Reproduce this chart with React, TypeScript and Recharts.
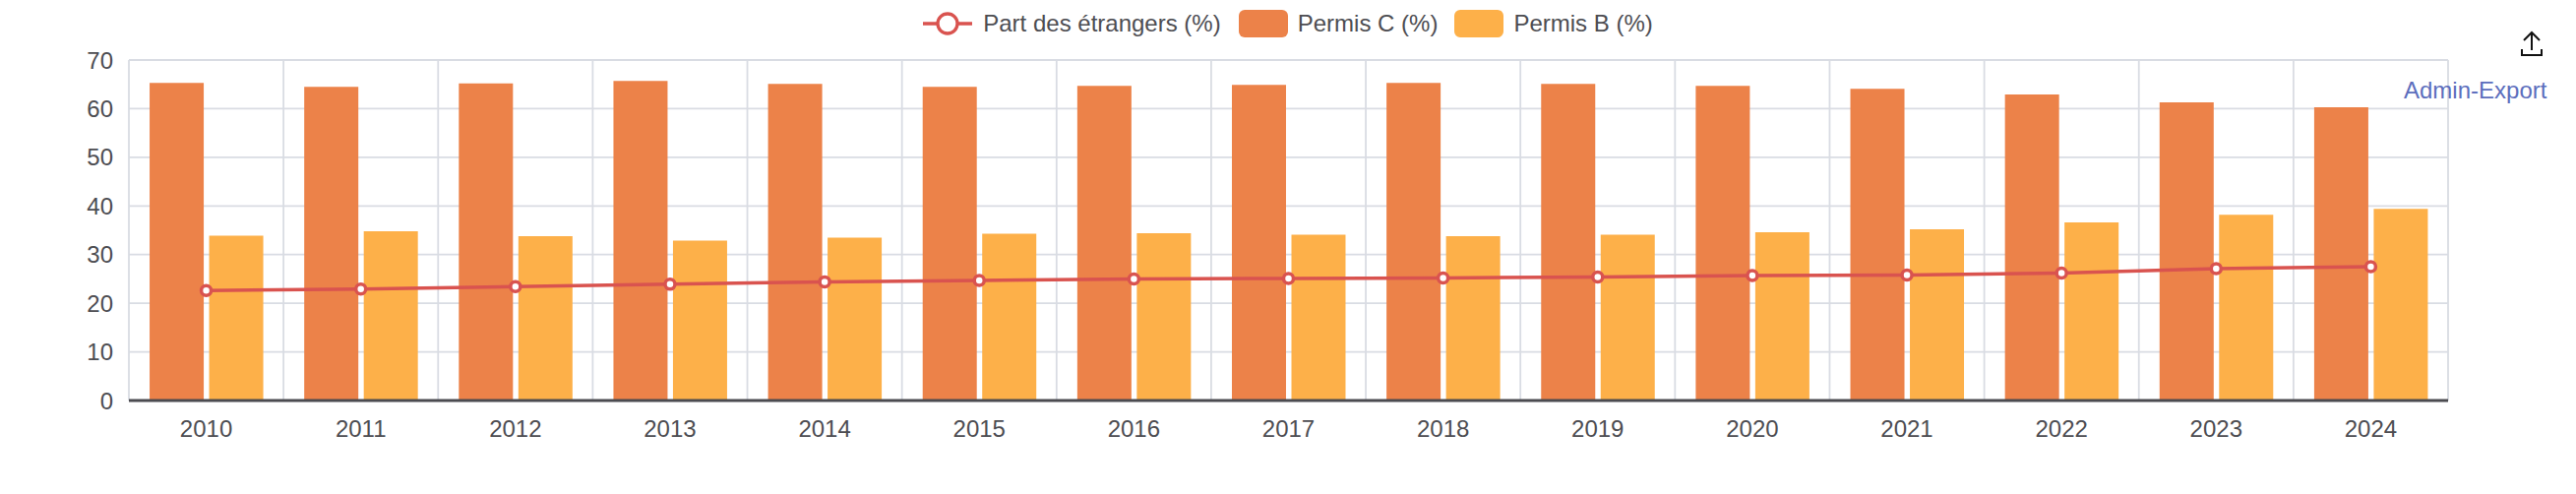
import React from 'react';
import { ComposedChart, Bar, Line, XAxis, YAxis, CartesianGrid, Legend } from 'recharts';

const years = ['2010', '2011', '2012', '2013', '2014', '2015', '2016', '2017', '2018', '2019', '2020', '2021', '2022', '2023', '2024'];
const partEtrangers = [22.6, 22.9, 23.4, 23.9, 24.4, 24.7, 25.0, 25.1, 25.2, 25.4, 25.7, 25.8, 26.2, 27.1, 27.5];
const permisC = [65.3, 64.5, 65.2, 65.7, 65.1, 64.5, 64.7, 64.9, 65.3, 65.1, 64.7, 64.1, 62.9, 61.3, 60.3];
const permisB = [33.9, 34.8, 33.8, 32.9, 33.5, 34.3, 34.4, 34.1, 33.8, 34.1, 34.6, 35.2, 36.6, 38.2, 39.4];
const yTicks = [0, 10, 20, 30, 40, 50, 60, 70];
const seriesNames = ['Part des étrangers (%)', 'Permis C (%)', 'Permis B (%)'];

const COLOR_LINE = '#D9534F';
const COLOR_C = '#EC8249';
const COLOR_B = '#FDB049';
const TEXT = '#4d4d52';
const GRID = '#d9dce3';
const FONT = '"Liberation Sans", Arial, Helvetica, sans-serif';

const data = years.map((y, i) => ({
  year: y,
  part: partEtrangers[i],
  c: permisC[i],
  b: permisB[i],
}));

const LegendContent = () => (
  <div
    style={{
      display: 'flex',
      justifyContent: 'center',
      alignItems: 'center',
      height: 48,
      fontFamily: FONT,
      fontSize: 24,
      color: TEXT,
    }}
  >
    <div style={{ display: 'flex', alignItems: 'center', marginRight: 18 }}>
      <svg width={50} height={28} style={{ marginRight: 11 }}>
        <line x1={0} y1={14} x2={50} y2={14} stroke={COLOR_LINE} strokeWidth={3.3} />
        <circle cx={25} cy={14} r={10} fill="#fff" stroke={COLOR_LINE} strokeWidth={3.3} />
      </svg>
      <span>{seriesNames[0]}</span>
    </div>
    <div style={{ display: 'flex', alignItems: 'center', marginRight: 17 }}>
      <svg width={50} height={28} style={{ marginRight: 10 }}>
        <rect x={0} y={0} width={50} height={28} rx={6} fill={COLOR_C} />
      </svg>
      <span>{seriesNames[1]}</span>
    </div>
    <div style={{ display: 'flex', alignItems: 'center' }}>
      <svg width={50} height={28} style={{ marginRight: 10 }}>
        <rect x={0} y={0} width={50} height={28} rx={6} fill={COLOR_B} />
      </svg>
      <span>{seriesNames[2]}</span>
    </div>
  </div>
);

const verticalGen = ({ offset }: any) => {
  const n = years.length;
  const step = offset.width / n;
  const out: number[] = [];
  for (let i = 0; i <= n; i++) out.push(offset.left + i * step);
  return out;
};

export default function App() {
  return (
    <div style={{ position: 'absolute', left: 0, top: 0, width: 2618, height: 502, background: '#fff', fontFamily: FONT }}>
      <ComposedChart
        width={2618}
        height={502}
        data={data}
        margin={{ top: 61, right: 130, bottom: 65, left: 0 }}
        barCategoryGap="13.4%"
        barGap={5.5}
      >
        <CartesianGrid
          stroke={GRID}
          strokeWidth={1.8}
          verticalCoordinatesGenerator={verticalGen}
        />
        <XAxis
          dataKey="year"
          height={30}
          axisLine={{ stroke: '#4b4b50', strokeWidth: 3 }}
          tickLine={false}
          tickSize={0}
          tickMargin={20}
          interval={0}
          tick={{ fill: TEXT, fontSize: 24, fontFamily: FONT }}
        />
        <YAxis
          width={131}
          domain={[0, 70]}
          ticks={yTicks}
          axisLine={false}
          tickLine={false}
          tickSize={0}
          tickMargin={16}
          interval={0}
          tick={{ fill: TEXT, fontSize: 24, fontFamily: FONT }}
        />
        <Legend
          layout="horizontal"
          verticalAlign="middle"
          align="center"
          wrapperStyle={{ top: 0, left: 0, width: 2618 }}
          content={<LegendContent />}
        />
        <Bar dataKey="c" name={seriesNames[1]} fill={COLOR_C} isAnimationActive={false} />
        <Bar dataKey="b" name={seriesNames[2]} fill={COLOR_B} isAnimationActive={false} />
        <Line
          dataKey="part"
          name={seriesNames[0]}
          type="linear"
          stroke={COLOR_LINE}
          strokeWidth={3.5}
          dot={{ r: 5, fill: '#fff', stroke: COLOR_LINE, strokeWidth: 3.5 }}
          activeDot={false}
          isAnimationActive={false}
        />
      </ComposedChart>
      <svg
        width={30}
        height={30}
        style={{ position: 'absolute', left: 2558, top: 30 }}
      >
        <path d="M15 3 L15 21 M7 11 L15 3 L23 11" fill="none" stroke="#111" strokeWidth={2} />
        <path d="M5 20 L5 26 L25 26 L25 20" fill="none" stroke="#111" strokeWidth={2} />
      </svg>
      <div
        style={{
          position: 'absolute',
          left: 2443,
          top: 77,
          fontSize: 24,
          lineHeight: '30px',
          color: '#5C6EBD',
          fontFamily: FONT,
        }}
      >
        Admin-Export
      </div>
    </div>
  );
}
